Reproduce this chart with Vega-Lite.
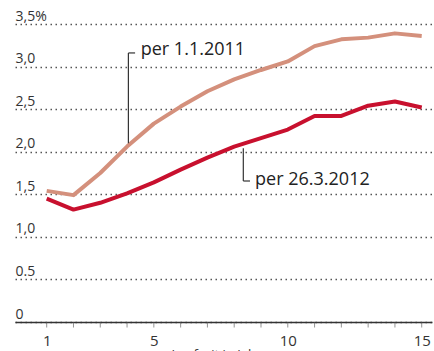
{
  "$schema": "https://vega.github.io/schema/vega-lite/v6.json",
  "width": 417,
  "height": 298,
  "autosize": {"type": "none"},
  "padding": {"left": 15, "top": 24, "right": 2, "bottom": 29},
  "background": "white",
  "config": {"view": {"stroke": null}, "font": "Open Sans"},
  "datasets": {
    "curves": [
      {"Jahre": 1, "Rendite": 1.54, "Stichtag": "per 1.1.2011"},
      {"Jahre": 2, "Rendite": 1.49, "Stichtag": "per 1.1.2011"},
      {"Jahre": 3, "Rendite": 1.75, "Stichtag": "per 1.1.2011"},
      {"Jahre": 4, "Rendite": 2.06, "Stichtag": "per 1.1.2011"},
      {"Jahre": 5, "Rendite": 2.33, "Stichtag": "per 1.1.2011"},
      {"Jahre": 6, "Rendite": 2.53, "Stichtag": "per 1.1.2011"},
      {"Jahre": 7, "Rendite": 2.71, "Stichtag": "per 1.1.2011"},
      {"Jahre": 8, "Rendite": 2.85, "Stichtag": "per 1.1.2011"},
      {"Jahre": 9, "Rendite": 2.96, "Stichtag": "per 1.1.2011"},
      {"Jahre": 10, "Rendite": 3.06, "Stichtag": "per 1.1.2011"},
      {"Jahre": 11, "Rendite": 3.24, "Stichtag": "per 1.1.2011"},
      {"Jahre": 12, "Rendite": 3.32, "Stichtag": "per 1.1.2011"},
      {"Jahre": 13, "Rendite": 3.34, "Stichtag": "per 1.1.2011"},
      {"Jahre": 14, "Rendite": 3.39, "Stichtag": "per 1.1.2011"},
      {"Jahre": 15, "Rendite": 3.36, "Stichtag": "per 1.1.2011"},
      {"Jahre": 1, "Rendite": 1.45, "Stichtag": "per 26.3.2012"},
      {"Jahre": 2, "Rendite": 1.32, "Stichtag": "per 26.3.2012"},
      {"Jahre": 3, "Rendite": 1.40, "Stichtag": "per 26.3.2012"},
      {"Jahre": 4, "Rendite": 1.51, "Stichtag": "per 26.3.2012"},
      {"Jahre": 5, "Rendite": 1.64, "Stichtag": "per 26.3.2012"},
      {"Jahre": 6, "Rendite": 1.79, "Stichtag": "per 26.3.2012"},
      {"Jahre": 7, "Rendite": 1.93, "Stichtag": "per 26.3.2012"},
      {"Jahre": 8, "Rendite": 2.06, "Stichtag": "per 26.3.2012"},
      {"Jahre": 9, "Rendite": 2.16, "Stichtag": "per 26.3.2012"},
      {"Jahre": 10, "Rendite": 2.26, "Stichtag": "per 26.3.2012"},
      {"Jahre": 11, "Rendite": 2.42, "Stichtag": "per 26.3.2012"},
      {"Jahre": 12, "Rendite": 2.42, "Stichtag": "per 26.3.2012"},
      {"Jahre": 13, "Rendite": 2.54, "Stichtag": "per 26.3.2012"},
      {"Jahre": 14, "Rendite": 2.59, "Stichtag": "per 26.3.2012"},
      {"Jahre": 15, "Rendite": 2.52, "Stichtag": "per 26.3.2012"}
    ],
    "ticks": [
      {"Jahre": 1}, {"Jahre": 2}, {"Jahre": 3}, {"Jahre": 4}, {"Jahre": 5},
      {"Jahre": 6}, {"Jahre": 7}, {"Jahre": 8}, {"Jahre": 9}, {"Jahre": 10},
      {"Jahre": 11}, {"Jahre": 12}, {"Jahre": 13}, {"Jahre": 14}, {"Jahre": 15}
    ],
    "leaders": [
      {"Jahre": 4.05, "Rendite": 3.16, "Jahre2": 4.05, "Rendite2": 2.10},
      {"Jahre": 4.05, "Rendite": 3.16, "Jahre2": 4.30, "Rendite2": 3.16},
      {"Jahre": 8.34, "Rendite": 2.04, "Jahre2": 8.34, "Rendite2": 1.656},
      {"Jahre": 8.34, "Rendite": 1.656, "Jahre2": 8.59, "Rendite2": 1.656}
    ],
    "labels": [
      {"Jahre": 4.51, "Rendite": 3.136, "Text": "per 1.1.2011"},
      {"Jahre": 8.78, "Rendite": 1.609, "Text": "per 26.3.2012"}
    ]
  },
  "layer": [
    {
      "data": {"name": "curves"},
      "mark": {"type": "line", "strokeWidth": 4, "strokeJoin": "round"},
      "encoding": {
        "x": {
          "field": "Jahre",
          "type": "quantitative",
          "scale": {"domain": [-0.183, 15.384], "nice": false, "zero": false},
          "axis": {
            "title": "Laufzeit in Jahren",
            "titleFontSize": 13,
            "titleColor": "#333",
            "titleFontWeight": "normal",
            "titleY": 36,
            "titleBaseline": "alphabetic",
            "values": [1, 5, 10, 15],
            "labelOverlap": false,
            "labelFlush": false,
            "labelFontSize": 15,
            "labelColor": "#333",
            "labelPadding": 11,
            "domain": true,
            "domainColor": "#333",
            "domainWidth": 1.5,
            "ticks": false,
            "grid": false
          }
        },
        "y": {
          "field": "Rendite",
          "type": "quantitative",
          "scale": {"domain": [0, 3.5], "nice": false},
          "axis": {
            "title": null,
            "values": [0, 0.5, 1, 1.5, 2, 2.5, 3, 3.5],
            "labelExpr": "datum.value == 3.5 ? '3,5%' : datum.value == 0.5 ? '0.5' : datum.value == 0 ? '0' : replace(format(datum.value, '.1f'), '.', ',')",
            "labelAlign": "left",
            "labelBaseline": "alphabetic",
            "labelPadding": 0,
            "labelOffset": -4,
            "labelOverlap": false,
            "labelFontSize": 14,
            "labelColor": "#333",
            "domain": false,
            "ticks": false,
            "tickSize": 0,
            "grid": true,
            "gridDash": [1.5, 3.5],
            "gridColor": "#555",
            "gridWidth": 1.3
          }
        },
        "color": {
          "field": "Stichtag",
          "type": "nominal",
          "scale": {"domain": ["per 1.1.2011", "per 26.3.2012"], "range": ["#d4907c", "#c8102e"]},
          "legend": null
        }
      }
    },
    {
      "data": {"name": "ticks"},
      "mark": {"type": "tick", "orient": "vertical", "size": 5, "thickness": 1, "yOffset": 3, "color": "#666"},
      "encoding": {
        "x": {"field": "Jahre", "type": "quantitative"},
        "y": {"datum": 0, "type": "quantitative"}
      }
    },
    {
      "data": {"name": "leaders"},
      "mark": {"type": "rule", "color": "#333", "strokeWidth": 1.2},
      "encoding": {
        "x": {"field": "Jahre", "type": "quantitative"},
        "y": {"field": "Rendite", "type": "quantitative"},
        "x2": {"field": "Jahre2"},
        "y2": {"field": "Rendite2"}
      }
    },
    {
      "data": {"name": "labels"},
      "mark": {"type": "text", "align": "left", "baseline": "alphabetic", "fontSize": 18, "color": "#222"},
      "encoding": {
        "x": {"field": "Jahre", "type": "quantitative"},
        "y": {"field": "Rendite", "type": "quantitative"},
        "text": {"field": "Text"}
      }
    }
  ]
}
